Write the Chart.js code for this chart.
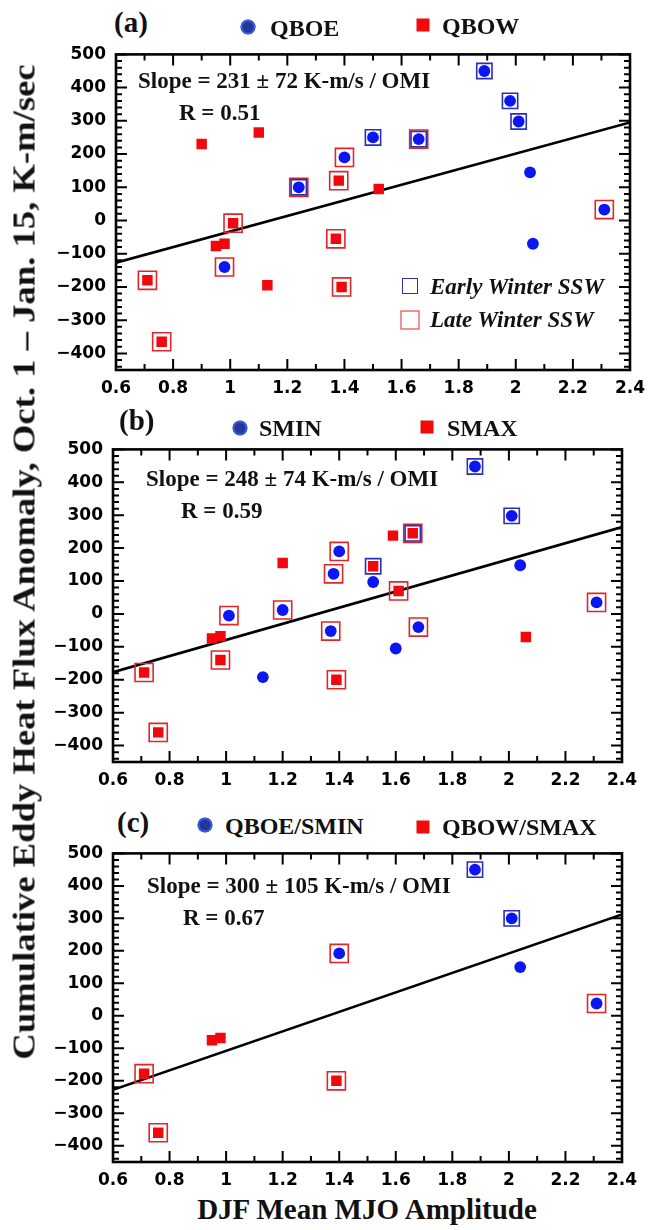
<!DOCTYPE html>
<html>
<head>
<meta charset="utf-8">
<script src="https://cdn.jsdelivr.net/npm/chart.js@4.4.0/dist/chart.umd.min.js"></script>
<style>
body { margin: 0; background: #fff; }
#page { position: relative; width: 648px; height: 1230px; overflow: hidden;
        font-family: "Liberation Serif", "Times New Roman", serif; font-weight: bold; color: #111; }
canvas { position: absolute; left: 40px; }
.t { position: absolute; white-space: nowrap; line-height: 1; transform: translateY(-50%); }
.dot { position: absolute; width: 15px; height: 15px; border-radius: 50%; background: #23379a;
       box-shadow: inset 0 0 0 2px #3a5be0; transform: translate(-50%, -50%); }
.sq { position: absolute; width: 13px; height: 13px; background: #f20a0a; transform: translate(-50%, -50%); }
.box { position: absolute; box-sizing: border-box; border: 1.6px solid; transform: translate(-50%, -50%); }
#ytitle { position: absolute; left: 24px; top: 562px; font-size: 31px; white-space: nowrap; line-height: 1;
          transform: translate(-50%, -50%) rotate(-90deg); }
</style>
</head>
<body>
<div id="page">
  <canvas id="chartA" width="608" height="360" style="top:40px"></canvas>
  <canvas id="chartB" width="608" height="357" style="top:435px"></canvas>
  <canvas id="chartC" width="608" height="353" style="top:839px"></canvas>

  <!-- panel (a) -->
  <div class="t" style="left:114px;top:22px;font-size:29px">(a)</div>
  <div class="dot" style="left:248px;top:27px"></div>
  <div class="t" style="left:270px;top:28px;font-size:24px">QBOE</div>
  <div class="sq" style="left:423px;top:25px"></div>
  <div class="t" style="left:442px;top:26px;font-size:24px">QBOW</div>
  <div class="t" style="left:138px;top:80px;font-size:23px">Slope = 231 ± 72 K-m/s / OMI</div>
  <div class="t" style="left:179px;top:112px;font-size:23px">R = 0.51</div>
  <div class="box" style="left:410px;top:286px;width:16px;height:16px;border-color:#2a2fb8"></div>
  <div class="t" style="left:430px;top:286px;font-size:23px;font-style:italic">Early Winter SSW</div>
  <div class="box" style="left:410px;top:320px;width:19px;height:19px;border-color:#e0262a"></div>
  <div class="t" style="left:430px;top:319px;font-size:23px;font-style:italic">Late Winter SSW</div>

  <!-- panel (b) -->
  <div class="t" style="left:119px;top:420px;font-size:29px">(b)</div>
  <div class="dot" style="left:240px;top:428px"></div>
  <div class="t" style="left:259px;top:428px;font-size:24px">SMIN</div>
  <div class="sq" style="left:427px;top:427px"></div>
  <div class="t" style="left:447px;top:428px;font-size:24px">SMAX</div>
  <div class="t" style="left:146px;top:478px;font-size:23px">Slope = 248 ± 74 K-m/s / OMI</div>
  <div class="t" style="left:181px;top:510px;font-size:23px">R = 0.59</div>

  <!-- panel (c) -->
  <div class="t" style="left:117px;top:822px;font-size:29px">(c)</div>
  <div class="dot" style="left:205px;top:825px"></div>
  <div class="t" style="left:225px;top:826px;font-size:24px">QBOE/SMIN</div>
  <div class="sq" style="left:423px;top:827px"></div>
  <div class="t" style="left:442px;top:827px;font-size:24px">QBOW/SMAX</div>
  <div class="t" style="left:147px;top:885px;font-size:23px">Slope = 300 ± 105 K-m/s / OMI</div>
  <div class="t" style="left:183px;top:917px;font-size:23px">R = 0.67</div>

  <div id="ytitle">Cumulative Eddy Heat Flux Anomaly, Oct. 1 – Jan. 15, K-m/sec</div>
  <div class="t" style="left:367px;top:1209px;font-size:29px;transform:translate(-50%,-50%)">DJF Mean MJO Amplitude</div>
</div>

<script>
// axis ticks
let xTicks = [0.6, 0.8, 1.0, 1.2, 1.4, 1.6, 1.8, 2.0, 2.2, 2.4];
let yTicks = [-400, -300, -200, -100, 0, 100, 200, 300, 400, 500];
let fitX = [0.6, 2.4];

// panel (a): QBOE (blue) / QBOW (red); SSW flag: E = early winter, L = late winter
let aBlueX = [1.24, 1.40, 1.50, 1.66, 1.89, 1.98, 2.01, 2.05, 2.06, 2.31, 0.98];
let aBlueY = [100, 190, 250, 245, 450, 360, 298, 145, -70, 33, -140];
let aBlueSSW = ["EL", "L", "E", "EL", "E", "E", "E", "", "", "L", "L"];
let aRedX = [0.90, 1.10, 1.38, 1.52, 1.01, 0.95, 0.98, 0.71, 1.13, 0.76, 1.37, 1.39];
let aRedY = [230, 265, 120, 95, -8, -77, -70, -180, -195, -365, -55, -200];
let aRedSSW = ["", "", "L", "", "L", "", "", "L", "", "L", "L", "L"];
let aFitY = [-127, 295];

// panel (b): SMIN (blue) / SMAX (red)
let bBlueX = [1.40, 1.38, 1.20, 1.01, 1.37, 1.88, 2.01, 1.52, 2.04, 2.31, 1.68, 1.60, 1.13];
let bBlueY = [190, 122, 12, -5, -52, 448, 298, 97, 148, 35, -40, -105, -192];
let bBlueSSW = ["L", "L", "L", "L", "L", "E", "E", "", "", "L", "L", "", ""];
let bRedX = [1.20, 0.95, 0.98, 1.59, 1.66, 1.52, 1.61, 2.06, 0.71, 0.98, 1.39, 0.76];
let bRedY = [155, -75, -68, 238, 245, 145, 70, -70, -178, -140, -200, -360];
let bRedSSW = ["", "", "", "", "EL", "E", "L", "", "L", "L", "L", "L"];
let bFitY = [-177, 264];

// panel (c): QBOE/SMIN (blue) / QBOW/SMAX (red)
let cBlueX = [1.40, 1.88, 2.01, 2.04, 2.31];
let cBlueY = [192, 450, 300, 150, 38];
let cBlueSSW = ["L", "E", "E", "", "L"];
let cRedX = [0.95, 0.98, 0.71, 0.76, 1.39];
let cRedY = [-75, -68, -178, -360, -200];
let cRedSSW = ["", "", "L", "L", "L"];
let cFitY = [-228, 312];

function pts(xs, ys) {
    return xs.map((x, i) => ({x: x, y: ys[i]}));
}

function flagged(xs, ys, flags, f) {
    let out = [];
    xs.forEach((x, i) => { if (flags[i].includes(f)) out.push({x: x, y: ys[i]}); });
    return out;
}

// frame and inward tick marks on all four sides
let frame = {
    id: "frame",
    afterDatasetsDraw(chart) {
        let ctx = chart.ctx, a = chart.chartArea, x = chart.scales.x, y = chart.scales.y;
        ctx.save();
        ctx.strokeStyle = "#000";
        ctx.lineWidth = 2;
        ctx.beginPath();
        for (let i = 6; i <= 24; i++) {
            let px = x.getPixelForValue(i / 10);
            let len = i % 2 === 0 ? 11 : 6;
            ctx.moveTo(px, a.bottom); ctx.lineTo(px, a.bottom - len);
            ctx.moveTo(px, a.top); ctx.lineTo(px, a.top + len);
        }
        for (let v = -440; v <= 500; v += 20) {
            let py = y.getPixelForValue(v);
            let len = v % 100 === 0 ? 11 : 6;
            ctx.moveTo(a.left, py); ctx.lineTo(a.left + len, py);
            ctx.moveTo(a.right, py); ctx.lineTo(a.right - len, py);
        }
        ctx.stroke();
        ctx.lineWidth = 2.6;
        ctx.strokeRect(a.left, a.top, a.right - a.left, a.bottom - a.top);
        ctx.restore();
    }
};

let tickFont = {family: "DejaVu Sans", size: 17, weight: "bold"};

function makePanel(id, yAxisWidth, padRight, bx, by, bf, rx, ry, rf, fitY) {
    let early = flagged(bx, by, bf, "E").concat(flagged(rx, ry, rf, "E"));
    let late = flagged(bx, by, bf, "L").concat(flagged(rx, ry, rf, "L"));
    return new Chart(document.getElementById(id).getContext("2d"), {
        type: "scatter",
        data: {
            datasets: [{
                data: pts(bx, by),
                pointStyle: "circle",
                pointRadius: 5.9,
                pointBackgroundColor: "#0b16f2",
                pointBorderWidth: 0,
                order: 0
            }, {
                data: pts(rx, ry),
                pointStyle: "rect",
                pointRadius: 7.4,
                pointBackgroundColor: "#f2080c",
                pointBorderWidth: 0,
                order: 0
            }, {
                data: early,
                pointStyle: "rect",
                pointRadius: 10.8,
                pointBackgroundColor: "rgba(0,0,0,0)",
                pointBorderColor: "#2a2fb8",
                pointBorderWidth: 1.6,
                order: 1
            }, {
                data: late,
                pointStyle: "rect",
                pointRadius: 12.8,
                pointBackgroundColor: "rgba(0,0,0,0)",
                pointBorderColor: "#e0262a",
                pointBorderWidth: 1.6,
                order: 1
            }, {
                type: "line",
                data: pts(fitX, fitY),
                showLine: true,
                borderColor: "#000",
                borderWidth: 2.6,
                pointRadius: 0,
                order: 2
            }]
        },
        options: {
            responsive: false,
            animation: false,
            events: [],
            layout: {padding: {top: 10, right: padRight, left: 0, bottom: 0}},
            plugins: {legend: {display: false}, tooltip: {enabled: false}},
            scales: {
                x: {
                    type: "linear", min: 0.6, max: 2.4,
                    afterBuildTicks: s => { s.ticks = xTicks.map(v => ({value: v})); },
                    afterFit: s => { s.height = 30; s.paddingLeft = 0; s.paddingRight = 0; },
                    grid: {display: false, drawTicks: false},
                    border: {display: false},
                    ticks: {
                        padding: 8, color: "#000", font: tickFont, maxRotation: 0, autoSkip: false,
                        callback: v => String(Number(v.toFixed(1)))
                    }
                },
                y: {
                    type: "linear", min: -450, max: 500,
                    afterBuildTicks: s => { s.ticks = yTicks.map(v => ({value: v})); },
                    afterFit: s => { s.width = yAxisWidth; s.paddingTop = 0; s.paddingBottom = 0; },
                    grid: {display: false, drawTicks: false},
                    border: {display: false},
                    ticks: {
                        padding: 10, color: "#000", font: tickFont, autoSkip: false,
                        callback: v => v < 0 ? "\u2212" + Math.abs(v) : String(v)
                    }
                }
            }
        },
        plugins: [frame]
    });
}

makePanel("chartA", 76, 18, aBlueX, aBlueY, aBlueSSW, aRedX, aRedY, aRedSSW, aFitY);
makePanel("chartB", 73, 26, bBlueX, bBlueY, bBlueSSW, bRedX, bRedY, bRedSSW, bFitY);
makePanel("chartC", 73, 26, cBlueX, cBlueY, cBlueSSW, cRedX, cRedY, cRedSSW, cFitY);

// stretch the vertical title to the length it has in the figure
let yt = document.getElementById("ytitle");
let k = 995 / yt.offsetWidth;
yt.style.transform = "translate(-50%, -50%) rotate(-90deg) scale(" + k + ", 1)";
</script>
</body>
</html>
